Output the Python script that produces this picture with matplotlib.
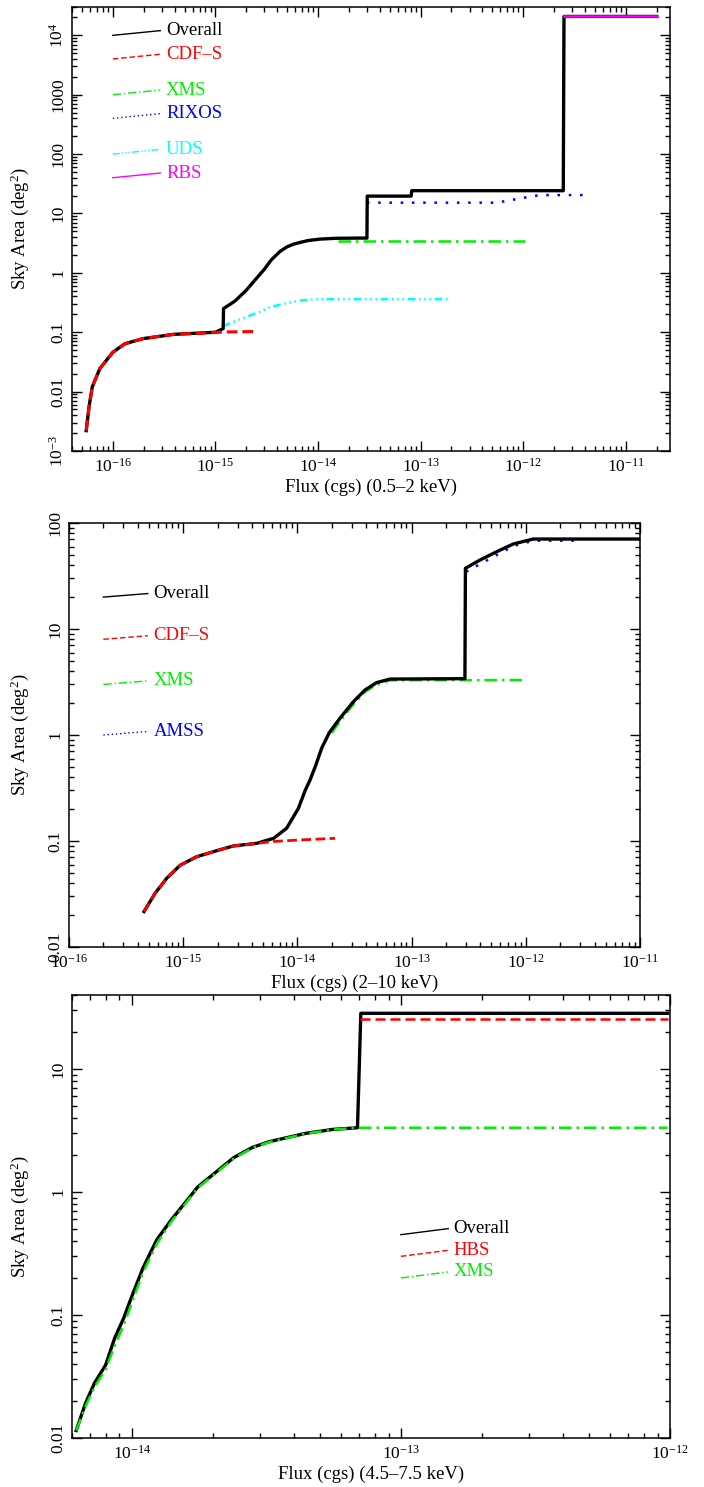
import matplotlib
matplotlib.use("Agg")
import matplotlib.pyplot as plt
from matplotlib.ticker import LogLocator, NullFormatter

plt.rcParams["font.family"] = ["Liberation Serif", "DejaVu Serif"]
plt.rcParams["mathtext.fontset"] = "custom"
plt.rcParams["mathtext.rm"] = "Liberation Serif"
plt.rcParams["mathtext.it"] = "Liberation Serif:italic"
plt.rcParams["mathtext.bf"] = "Liberation Serif:bold"

# ---- panel 1 : 0.5-2 keV ----
p1_overall_x = [5.5e-17, 5.86e-17, 6.3e-17, 7.47e-17, 1.0e-16, 1.31e-16, 1.97e-16, 3.88e-16, 1.0e-15,
                1.19e-15, 1.2e-15, 1.55e-15, 2.0e-15, 2.42e-15, 3.0e-15, 3.5e-15, 4.27e-15, 5.0e-15,
                5.8e-15, 6.67e-15, 8.0e-15, 1.04e-14, 1.5e-14,
                2.5e-14, 3.0e-14, 3.02e-14, 8.1e-14, 8.2e-14, 2.46e-12, 2.5e-12, 2.0e-11]
p1_overall_y = [0.0022, 0.0055, 0.012, 0.0244, 0.046, 0.064, 0.078, 0.092, 0.100,
                0.115, 0.25, 0.335, 0.51, 0.75, 1.15, 1.65, 2.3, 2.75,
                3.05, 3.25, 3.5, 3.7, 3.82,
                3.85, 3.85, 19.6, 19.6, 24.2, 24.2, 2.08e4, 2.08e4]
p1_cdfs_x = [5.5e-17, 5.86e-17, 6.3e-17, 7.47e-17, 1.0e-16, 1.31e-16, 1.97e-16, 3.88e-16, 1.0e-15,
             1.2e-15, 2.55e-15]
p1_cdfs_y = [0.0022, 0.0055, 0.012, 0.0244, 0.046, 0.064, 0.078, 0.092, 0.099, 0.101, 0.103]
p1_xms_x = [1.55e-14, 1.05e-12]
p1_xms_y = [3.43, 3.43]
p1_rixos_x = [3.0e-14, 5.5e-13, 7.9e-13, 1.2e-12, 1.46e-12, 4.0e-12]
p1_rixos_y = [15.2, 15.2, 17.0, 19.4, 20.4, 20.4]
p1_uds_x = [1.19e-15, 1.74e-15, 2.7e-15, 3.4e-15, 5.0e-15, 7.0e-15, 1.0e-14, 1.82e-13]
p1_uds_y = [0.127, 0.165, 0.22, 0.265, 0.31, 0.345, 0.36, 0.36]
p1_rbs_x = [2.5e-12, 2.0e-11]
p1_rbs_y = [2.08e4, 2.08e4]

# ---- panel 2 : 2-10 keV ----
p2_overall_x = [4.54e-16, 5.66e-16, 7.17e-16, 9.4e-16, 1.31e-15, 1.96e-15, 2.75e-15, 4.4e-15, 6.2e-15,
                8.05e-15, 1.02e-14, 1.17e-14, 1.29e-14, 1.45e-14, 1.63e-14, 1.9e-14, 2.36e-14, 3.09e-14,
                3.91e-14, 4.94e-14, 6.46e-14, 2.93e-13, 2.96e-13, 3.98e-13, 5.56e-13, 7.78e-13, 1.16e-12,
                1.0e-11]
p2_overall_y = [0.0216, 0.032, 0.0445, 0.059, 0.071, 0.081, 0.0898, 0.095, 0.106,
                0.132, 0.203, 0.30, 0.376, 0.52, 0.75, 1.05, 1.44, 2.06,
                2.66, 3.12, 3.37, 3.40, 37.4, 44.8, 53.6, 63.4, 70.6,
                70.6]
p2_cdfs_x = [4.54e-16, 5.66e-16, 7.17e-16, 9.4e-16, 1.31e-15, 1.96e-15, 2.75e-15, 4.4e-15, 6.2e-15,
             1.0e-14, 2.14e-14]
p2_cdfs_y = [0.0216, 0.032, 0.0445, 0.059, 0.071, 0.081, 0.0898, 0.095, 0.099, 0.102, 0.106]
p2_xms_x = [2.0e-14, 2.36e-14, 3.09e-14, 3.91e-14, 4.94e-14, 6.46e-14, 1.02e-12]
p2_xms_y = [1.05, 1.35, 1.95, 2.55, 3.0, 3.28, 3.30]
p2_amss_x = [3.0e-13, 3.98e-13, 5.56e-13, 7.78e-13, 1.16e-12, 2.79e-12]
p2_amss_y = [34.7, 41.0, 49.9, 60.6, 68.1, 68.1]

# ---- panel 3 : 4.5-7.5 keV ----
p3_overall_x = [6.22e-15, 6.73e-15, 7.27e-15, 8.0e-15, 8.64e-15, 9.33e-15, 1.0e-14, 1.1e-14, 1.24e-14,
                1.4e-14, 1.76e-14, 2.39e-14, 2.8e-14, 3.25e-14, 4.43e-14, 5.58e-14, 6.9e-14, 7.1e-14,
                9.8e-13]
p3_overall_y = [0.0115, 0.0191, 0.0279, 0.0392, 0.0647, 0.094, 0.141, 0.24, 0.41,
                0.59, 1.1, 1.9, 2.3, 2.57, 3.0, 3.23, 3.33, 28.4,
                28.4]
p3_hbs_x = [7.05e-14, 9.8e-13]
p3_hbs_y = [25.4, 25.4]
p3_xms_x = [6.22e-15, 6.73e-15, 7.27e-15, 8.0e-15, 8.64e-15, 9.33e-15, 1.0e-14, 1.1e-14, 1.24e-14,
            1.4e-14, 1.76e-14, 2.39e-14, 2.8e-14, 3.25e-14, 4.43e-14, 5.58e-14, 6.9e-14, 9.8e-13]
p3_xms_y = [0.0115, 0.018, 0.026, 0.036, 0.056, 0.082, 0.125, 0.22, 0.38,
            0.57, 1.08, 1.87, 2.28, 2.55, 2.98, 3.22, 3.33, 3.33]

# legend entries: name, colour, linestyle, start of the little line (data coords)
p1_legend = [("Overall", "black", "-", 1e4), ("CDF\u2013S", "red", (0, (4, 2)), 4000),
             ("XMS", "#00ee00", (0, (6, 2, 1, 2)), 1000), ("RIXOS", "blue", (0, (1, 2)), 400),
             ("UDS", "cyan", (0, (5, 1.5, 1, 1.5, 1, 1.5, 1, 1.5)), 100), ("RBS", "magenta", "-", 40)]
p2_legend = [("Overall", "black", "-", 20), ("CDF\u2013S", "red", (0, (4, 2)), 8),
             ("XMS", "#00ee00", (0, (6, 2, 1, 2)), 3), ("AMSS", "blue", (0, (1, 2)), 1)]
p3_legend = [("Overall", "black", "-", 0.45), ("HBS", "red", (0, (4, 2)), 0.3),
             ("XMS", "#00ee00", (0, (6, 2, 1, 2)), 0.2)]

RED = "red"
GREEN = "#00ee00"
BLUE = "blue"
CYAN = "cyan"
MAGENTA = "magenta"

fig = plt.figure(figsize=(7.04, 14.87), dpi=100)
H = 1487.0
W = 704.0


def make_axes(left, right, top, bottom):
    return fig.add_axes([left / W, 1 - bottom / H, (right - left) / W, (bottom - top) / H])


def style_axes(ax, xlim, ylim, xt, xtl, yt, ytl, xlabel, px_w, px_h):
    ax.set_xscale("log")
    ax.set_yscale("log")
    ax.set_xlim(*xlim)
    ax.set_ylim(*ylim)
    ax.set_xticks(xt, xtl)
    ax.set_yticks(yt, ytl)
    ax.xaxis.set_minor_locator(LogLocator(base=10, subs=range(2, 10), numticks=50))
    ax.yaxis.set_minor_locator(LogLocator(base=10, subs=range(2, 10), numticks=50))
    ax.xaxis.set_minor_formatter(NullFormatter())
    ax.yaxis.set_minor_formatter(NullFormatter())
    ax.tick_params(which="both", direction="in", top=True, right=True, labelsize=12.5, width=1)
    ax.tick_params(which="major", length=7)
    ax.tick_params(which="minor", length=3.5)
    ax.tick_params(axis="x", pad=5)
    ax.tick_params(axis="y", pad=4)
    for lbl in ax.get_yticklabels():
        lbl.set_rotation(90)
        lbl.set_va("center")
        lbl.set_ha("right")
    for s in ax.spines.values():
        s.set_linewidth(1.1)
    ax.set_xlabel(xlabel, fontsize=13.5, va="center")
    ax.xaxis.set_label_coords(0.5, -36 / px_h)
    ax.set_ylabel("Sky Area (deg$^2$)", fontsize=13.5, va="center")


def draw_legend(ax, entries, x0, x1, xt, rise):
    for name, col, ls, y0 in entries:
        ax.plot([x0, x1], [y0, y0 * rise], color=col, ls=ls, lw=1.0)
        ax.text(xt, y0 * rise, name, color=col, fontsize=13.5, va="center", ha="left")


# ---------------- panel 1 ----------------
ax1 = make_axes(72, 670, 7, 451)
ax1.plot(p1_cdfs_x, p1_cdfs_y, color=RED, ls=(0, (3.5, 1.6)), lw=2.2, zorder=4)
ax1.plot(p1_uds_x, p1_uds_y, color=CYAN, ls=(0, (3, 1.5, 0.6, 1.5, 0.6, 1.5, 0.6, 1.5)), lw=1.8)
ax1.plot(p1_xms_x, p1_xms_y, color=GREEN, ls=(0, (5, 2, 1, 2)), lw=1.8)
ax1.plot(p1_rixos_x, p1_rixos_y, color=BLUE, ls=(0, (1, 3.5)), lw=1.8)
ax1.plot(p1_overall_x, p1_overall_y, color="black", lw=2.4, zorder=3)
ax1.plot(p1_rbs_x, p1_rbs_y, color=MAGENTA, lw=1.8, zorder=5)
draw_legend(ax1, p1_legend, 1e-16, 2.9e-16, 3.3e-16, 1.2)
style_axes(ax1, (4e-17, 2.7e-11), (1e-3, 3e4),
           [1e-16, 1e-15, 1e-14, 1e-13, 1e-12, 1e-11],
           ["$10^{-16}$", "$10^{-15}$", "$10^{-14}$", "$10^{-13}$", "$10^{-12}$", "$10^{-11}$"],
           [1e-3, 1e-2, 0.1, 1, 10, 100, 1000, 1e4],
           ["$10^{-3}$", "0.01", "0.1", "1", "10", "100", "1000", "$10^{4}$"],
           "Flux (cgs) (0.5\u20132 keV)", 598, 444)
ax1.yaxis.set_label_coords((20 - 72) / 598, 0.5)

# ---------------- panel 2 ----------------
ax2 = make_axes(69, 640, 523, 947)
ax2.plot(p2_xms_x, p2_xms_y, color=GREEN, ls=(0, (5, 2, 1, 2)), lw=1.8)
ax2.plot(p2_amss_x, p2_amss_y, color=BLUE, ls=(0, (1, 3.5)), lw=1.8)
ax2.plot(p2_overall_x, p2_overall_y, color="black", lw=2.4, zorder=3)
ax2.plot(p2_cdfs_x, p2_cdfs_y, color=RED, ls=(0, (3.5, 1.6)), lw=2.0, zorder=4)
draw_legend(ax2, p2_legend, 2e-16, 4.9e-16, 5.5e-16, 1.08)
style_axes(ax2, (1e-16, 1e-11), (0.01, 100),
           [1e-16, 1e-15, 1e-14, 1e-13, 1e-12, 1e-11],
           ["$10^{-16}$", "$10^{-15}$", "$10^{-14}$", "$10^{-13}$", "$10^{-12}$", "$10^{-11}$"],
           [0.01, 0.1, 1, 10, 100],
           ["0.01", "0.1", "1", "10", "100"],
           "Flux (cgs) (2\u201310 keV)", 571, 424)
ax2.yaxis.set_label_coords((20 - 69) / 571, 0.5)

# ---------------- panel 3 ----------------
ax3 = make_axes(72, 670, 995, 1438)
ax3.plot(p3_overall_x, p3_overall_y, color="black", lw=2.4, zorder=3)
ax3.plot(p3_xms_x, p3_xms_y, color=GREEN, ls=(0, (5, 2, 1, 2)), lw=1.8, zorder=4)
ax3.plot(p3_hbs_x, p3_hbs_y, color=RED, ls=(0, (4, 2)), lw=1.8, zorder=4)
draw_legend(ax3, p3_legend, 1e-13, 1.5e-13, 1.57e-13, 1.12)
style_axes(ax3, (6e-15, 1e-12), (0.01, 40),
           [1e-14, 1e-13, 1e-12],
           ["$10^{-14}$", "$10^{-13}$", "$10^{-12}$"],
           [0.01, 0.1, 1, 10],
           ["0.01", "0.1", "1", "10"],
           "Flux (cgs) (4.5\u20137.5 keV)", 598, 443)
ax3.yaxis.set_label_coords((20 - 72) / 598, 0.5)

fig.savefig("out.png", dpi=100)
